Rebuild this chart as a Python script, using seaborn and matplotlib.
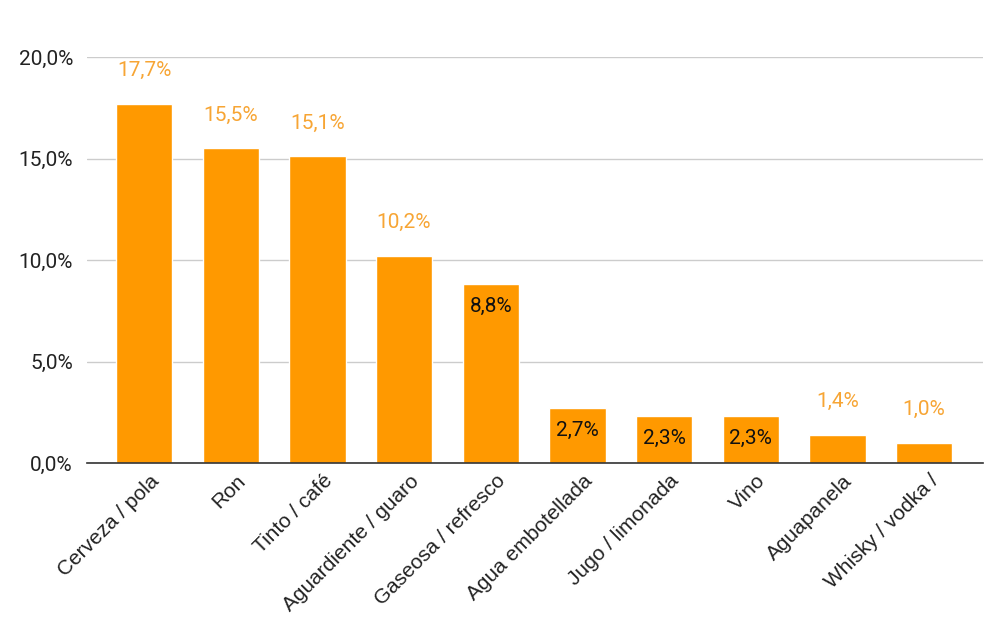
import numpy as np
import pandas as pd
import seaborn as sns
import matplotlib.pyplot as plt
import matplotlib.transforms as mtransforms

categories = [
    "Cerveza / pola", "Ron", "Tinto / café", "Aguardiente / guaro",
    "Gaseosa / refresco", "Agua embotellada", "Jugo / limonada", "Vino",
    "Aguapanela", "Whisky / vodka /",
]
values = [17.7, 15.5, 15.1, 10.2, 8.8, 2.7, 2.3, 2.3, 1.4, 1.0]
# which labels sit inside the bar (black) vs above it (orange)
inside = [False, False, False, False, True, True, True, True, False, False]
y_ticks = [0, 5, 10, 15, 20]

df = pd.DataFrame({"cat": categories, "val": values})

sns.set_theme(style="white")
plt.rcParams["font.family"] = ["Roboto", "DejaVu Sans"]

bar_color = "#FF9900"
label_color = "#F7A534"

fig = plt.figure(figsize=(9.98, 6.25), dpi=100)
ax = fig.add_axes([0.087, 0.2592, 0.898, 0.6496])

sns.barplot(data=df, x="cat", y="val", color=bar_color, width=0.65,
            saturation=1, ax=ax, zorder=3)

ax.set_ylim(0, 20)
ax.set_xlim(-0.66, 9.68)
ax.set_yticks(y_ticks)
ax.set_yticklabels([f"{t:.1f}%".replace(".", ",") for t in y_ticks], fontsize=15, color="#222222")
ax.yaxis.grid(True, color="#CCCCCC", linewidth=1, zorder=0)
ax.tick_params(axis="y", length=0, pad=10)
ax.tick_params(axis="x", length=0, pad=6)
ax.set_xticks(range(len(categories)))
ax.set_xticklabels(categories, rotation=45, ha="right", rotation_mode="anchor",
                   fontsize=15, color="#222222", family=["Liberation Sans", "DejaVu Sans"])
# nudge the rotated labels a bit to the right, like the original
shift = mtransforms.ScaledTranslation(5 / 100, 0, fig.dpi_scale_trans)
for lab in ax.get_xticklabels():
    lab.set_transform(lab.get_transform() + shift)
ax.set_xlabel("")
ax.set_ylabel("")
for s in ["top", "right", "left"]:
    ax.spines[s].set_visible(False)
ax.spines["bottom"].set_color("#333333")
ax.spines["bottom"].set_linewidth(1.2)
ax.spines["bottom"].set_zorder(4)

for i, (v, ins) in enumerate(zip(values, inside)):
    txt = f"{v:.1f}%".replace(".", ",")
    if ins:
        ax.annotate(txt, (i, v), xytext=(0, -16), textcoords="offset points",
                    ha="center", va="center", fontsize=15, color="#111111", zorder=5)
    else:
        ax.annotate(txt, (i, v), xytext=(0, 24), textcoords="offset points",
                    ha="center", va="center", fontsize=15, color=label_color, zorder=5)

fig.savefig("out.png", dpi=100)
